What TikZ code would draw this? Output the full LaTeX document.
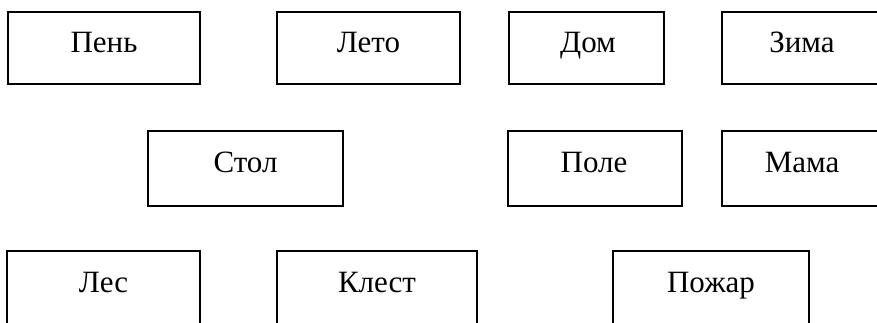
\documentclass[tikz,border=0pt]{standalone}
\usepackage{fontspec}
\setmainfont{Liberation Serif}
\begin{document}
\begin{tikzpicture}[x=1pt,y=-1pt,
  box/.style={draw=black, line width=1.7pt, fill=none},
  lbl/.style={anchor=base, inner sep=0pt, font=\fontsize{31}{36}\selectfont}]
\useasboundingbox (0,0) rectangle (877,322);
\clip (0,0) rectangle (877,322);
% row 1
\node[box, minimum width=192pt, minimum height=72pt] (pen)  at (104,48) {};
\node[box, minimum width=183pt, minimum height=72pt] (leto) at (368.5,48) {};
\node[box, minimum width=155pt, minimum height=72pt] (dom)  at (586.5,48) {};
\node[box, minimum width=170pt, minimum height=72pt] (zima) at (807,48) {};
% row 2
\node[box, minimum width=195pt, minimum height=75pt] (stol) at (245.5,168.5) {};
\node[box, minimum width=174pt, minimum height=75pt] (pole) at (595,168.5) {};
\node[box, minimum width=170pt, minimum height=75pt] (mama) at (807,168.5) {};
% row 3
\node[box, minimum width=193pt, minimum height=100pt] (les)    at (103.5,301) {};
\node[box, minimum width=200pt, minimum height=100pt] (klest)  at (377,301) {};
\node[box, minimum width=196pt, minimum height=100pt] (pozhar) at (711,301) {};
% labels
\node[lbl] (tpen)  at (104,52) {Пень};
\node[lbl] (tleto) at (368.5,52) {Лето};
\node[lbl] (tdom)  at (588,52) {Дом};
\node[lbl] (tzima) at (802,52) {Зима};
\node[lbl] (tstol) at (245.5,172) {Стол};
\node[lbl] (tpole) at (594,172) {Поле};
\node[lbl] (tmama) at (802,172) {Мама};
\node[lbl] (tles)    at (103.5,292) {Лес};
\node[lbl] (tklest)  at (377,292) {Клест};
\node[lbl] (tpozhar) at (711,292) {Пожар};
\end{tikzpicture}
\end{document}
